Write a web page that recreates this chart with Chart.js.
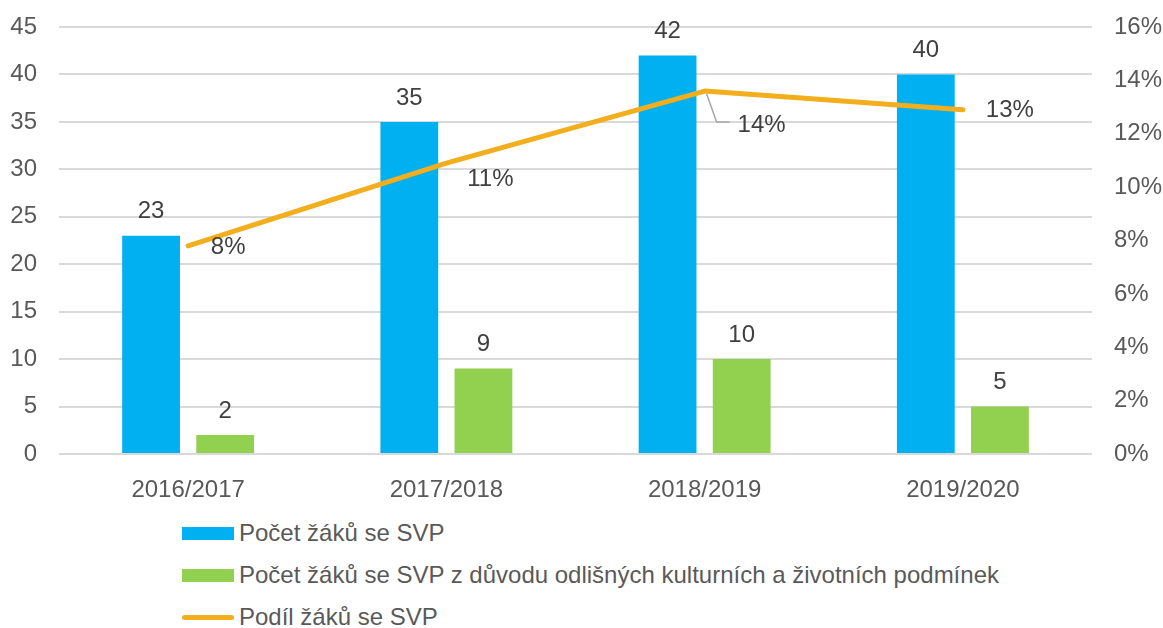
<!DOCTYPE html>
<html>
<head>
<meta charset="utf-8">
<script src="https://cdn.jsdelivr.net/npm/chart.js@4"></script>
<style>
  body { margin: 0; background: #fff; font-family: "Liberation Sans", Arial, sans-serif; }
  #wrap { position: relative; width: 1163px; height: 628px; }
  #box { position: absolute; left: 0; top: 0; width: 1163px; height: 500px; }
  #legend { position: absolute; left: 182px; top: 512px; }
  .item { height: 42px; display: flex; align-items: center; font-size: 24px; color: #595959; }
  .swatch { width: 52px; margin-right: 5px; }
</style>
</head>
<body>
<div id="wrap">
  <div id="box"><canvas id="chart"></canvas></div>
  <div id="legend"></div>
</div>
<script>
const years = ['2016/2017', '2017/2018', '2018/2019', '2019/2020'];
const svpCount = [23, 35, 42, 40];
const cultureCount = [2, 9, 10, 5];
const svpShare = [0.078, 0.109, 0.136, 0.129];

const labelNames = [
    'Počet žáků se SVP',
    'Počet žáků se SVP z důvodu odlišných kulturních a životních podmínek',
    'Podíl žáků se SVP'
];

const blue = '#00B0F0';
const green = '#92D050';
const orange = '#F2AE1C';
const font = '"Liberation Sans", Arial, sans-serif';

// offsets of the percent labels from their points
const shareOffsets = [[40, 2], [44, 16], [57, 34], [47, 1]];

const valueLabels = {
    id: 'valueLabels',
    afterDatasetsDraw(chart) {
        const ctx = chart.ctx;
        ctx.save();
        ctx.font = '24px ' + font;
        ctx.fillStyle = '#404040';
        ctx.textAlign = 'center';
        ctx.textBaseline = 'middle';
        [0, 1].forEach(i => {
            chart.getDatasetMeta(i).data.forEach((bar, j) => {
                ctx.fillText(chart.data.datasets[i].data[j], bar.x, bar.y - 24);
            });
        });
        chart.getDatasetMeta(2).data.forEach((pt, j) => {
            const off = shareOffsets[j];
            const text = Math.round(svpShare[j] * 100) + '%';
            if (j === 2) {
                ctx.strokeStyle = '#A6A6A6';
                ctx.lineWidth = 1.5;
                ctx.beginPath();
                ctx.moveTo(pt.x + 2, pt.y + 3);
                ctx.lineTo(pt.x + 12, pt.y + 31);
                ctx.lineTo(pt.x + 25, pt.y + 31);
                ctx.stroke();
            }
            ctx.fillText(text, pt.x + off[0], pt.y + off[1]);
        });
        ctx.restore();
    }
};

// keep the plot area fixed, tick labels may overhang it
const fixY = width => s => {
    s.width = width;
    s.paddingTop = 0;
    s.paddingBottom = 0;
};

const ctx = document.getElementById('chart').getContext('2d');
const chart = new Chart(ctx, {
    type: 'bar',
    data: {
        labels: years,
        datasets: [
            {
                label: labelNames[0],
                data: svpCount,
                backgroundColor: blue,
                yAxisID: 'y',
                order: 2,
                categoryPercentage: 0.574,
                barPercentage: 0.78
            },
            {
                label: labelNames[1],
                data: cultureCount,
                backgroundColor: green,
                yAxisID: 'y',
                order: 3,
                categoryPercentage: 0.574,
                barPercentage: 0.78
            },
            {
                type: 'line',
                label: labelNames[2],
                data: svpShare,
                borderColor: orange,
                backgroundColor: orange,
                borderWidth: 5,
                borderCapStyle: 'round',
                borderJoinStyle: 'round',
                pointRadius: 0,
                tension: 0,
                yAxisID: 'y2',
                order: 1
            }
        ]
    },
    options: {
        responsive: true,
        maintainAspectRatio: false,
        animation: false,
        layout: { padding: { top: 27, left: 0, right: 0, bottom: 0 } },
        plugins: {
            legend: { display: false },
            tooltip: { enabled: false }
        },
        scales: {
            x: {
                grid: { display: false },
                border: { display: false },
                ticks: { color: '#595959', font: { family: font, size: 24 }, padding: 14 },
                afterFit: s => { s.height = 46; }
            },
            y: {
                position: 'left',
                min: 0,
                max: 45,
                ticks: { stepSize: 5, color: '#595959', font: { family: font, size: 24 }, padding: 22 },
                grid: { color: '#D9D9D9', lineWidth: 2, drawTicks: false },
                border: { display: false },
                afterFit: fixY(59)
            },
            y2: {
                position: 'right',
                min: 0,
                max: 0.16,
                ticks: {
                    stepSize: 0.02,
                    color: '#595959',
                    font: { family: font, size: 24 },
                    padding: 22,
                    callback: v => Math.round(v * 100) + '%'
                },
                grid: { display: false, drawTicks: false },
                border: { display: false },
                afterFit: fixY(71)
            }
        }
    },
    plugins: [valueLabels]
});

const legend = document.getElementById('legend');
chart.data.datasets.forEach(ds => {
    const row = document.createElement('div');
    row.className = 'item';
    const sw = document.createElement('span');
    sw.className = 'swatch';
    if (ds.type === 'line') {
        sw.style.height = '5px';
        sw.style.borderRadius = '3px';
    } else {
        sw.style.height = '13px';
    }
    sw.style.background = ds.backgroundColor;
    const txt = document.createElement('span');
    txt.textContent = ds.label;
    row.append(sw, txt);
    legend.append(row);
});
</script>
</body>
</html>
